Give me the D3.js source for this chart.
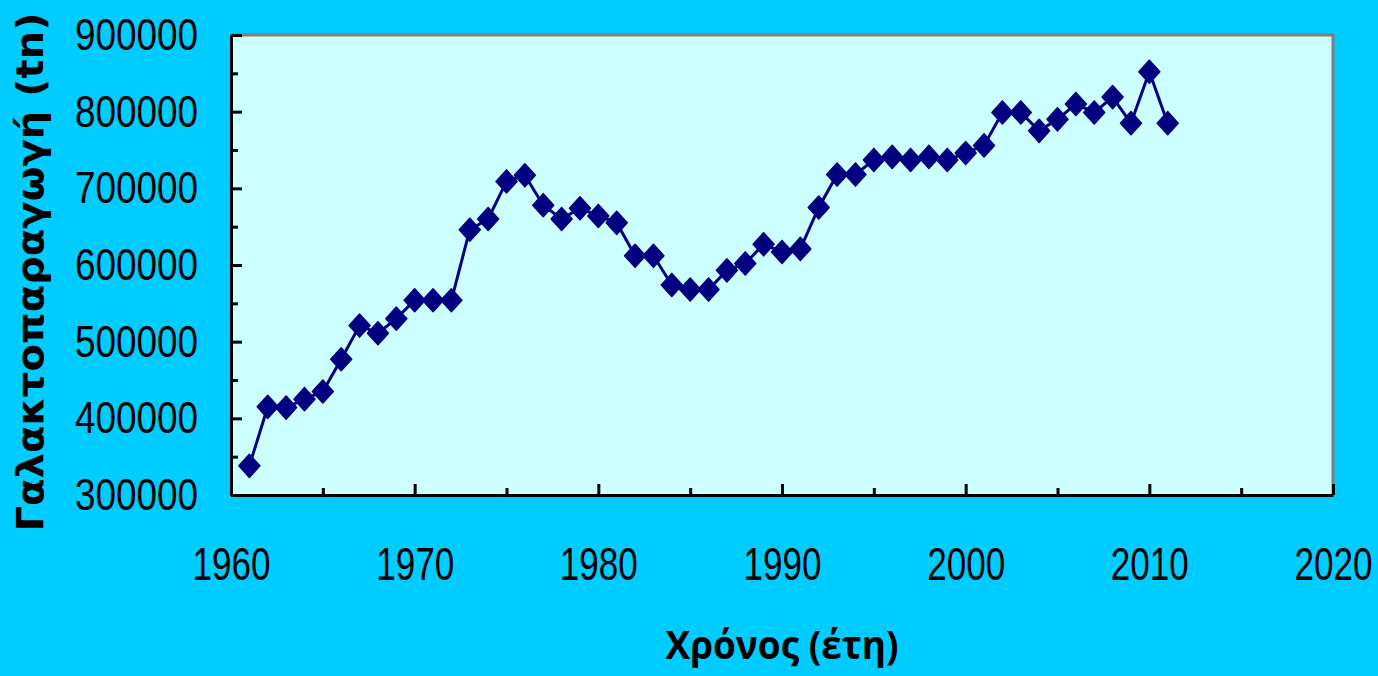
<!DOCTYPE html>
<html>
<head>
<meta charset="utf-8">
<script src="https://cdn.jsdelivr.net/npm/d3@7"></script>
<style>
  html, body { margin: 0; padding: 0; background: #00CCFF; }
  svg { display: block; }
</style>
</head>
<body>
<svg id="chart" width="1378" height="676"></svg>
<script>
const years = [1961,1962,1963,1964,1965,1966,1967,1968,1969,1970,
  1971,1972,1973,1974,1975,1976,1977,1978,1979,1980,
  1981,1982,1983,1984,1985,1986,1987,1988,1989,1990,
  1991,1992,1993,1994,1995,1996,1997,1998,1999,2000,
  2001,2002,2003,2004,2005,2006,2007,2008,2009,2010,2011];
const production = [338000,415000,414000,425000,435000,477000,521000,511000,530000,554000,
  554000,554000,646000,660000,709000,717000,678000,660000,674000,664000,
  655000,612000,612000,574000,568000,568000,593000,602000,627000,617000,
  621000,675000,718000,718000,737000,741000,737000,741000,737000,746000,
  756000,799000,799000,775000,790000,810000,799000,819000,785000,852000,785000];
const xTicks = [1960,1970,1980,1990,2000,2010,2020];
const xMinorTicks = [1965,1975,1985,1995,2005,2015];
const yTicks = [300000,400000,500000,600000,700000,800000,900000];
const yMinorTicks = [350000,450000,550000,650000,750000,850000];
const xTitle = "Χρόνος (έτη)";
const yTitle = "Γαλακτοπαραγωγή (tn)";

const svg = d3.select("#chart");
const W = 1378, H = 676;
const m = {left: 231, top: 35, right: 1378 - 1333, bottom: 676 - 495};
const x = d3.scaleLinear().domain([1960, 2020]).range([m.left, W - m.right]);
const y = d3.scaleLinear().domain([300000, 900000]).range([H - m.bottom, m.top]);

svg.append("rect").attr("width", W).attr("height", H).attr("fill", "#00CCFF");

// plot background
svg.append("rect")
  .attr("x", x(1960)).attr("y", y(900000))
  .attr("width", x(2020) - x(1960)).attr("height", y(300000) - y(900000))
  .attr("fill", "#CCFFFF");

// top/right border gray
svg.append("path")
  .attr("d", `M${x(1960)},${y(900000)}H${x(2020)}V${y(300000)}`)
  .attr("fill", "none").attr("stroke", "#808080").attr("stroke-width", 3);

const tickFont = "'Liberation Sans', Arial, sans-serif";

// minor ticks
svg.append("g").attr("transform", `translate(0,${y(300000)})`)
  .call(d3.axisBottom(x).tickValues(xMinorTicks).tickSizeInner(-7).tickSizeOuter(0).tickFormat(""))
  .call(g => g.select(".domain").remove())
  .call(g => g.selectAll("line").attr("stroke", "#000").attr("stroke-width", 3));
svg.append("g").attr("transform", `translate(${x(1960)},0)`)
  .call(d3.axisLeft(y).tickValues(yMinorTicks).tickSizeInner(-7).tickSizeOuter(0).tickFormat(""))
  .call(g => g.select(".domain").remove())
  .call(g => g.selectAll("line").attr("stroke", "#000").attr("stroke-width", 3));

// major x axis
const gx = svg.append("g").attr("transform", `translate(0,${y(300000)})`)
  .call(d3.axisBottom(x).tickValues(xTicks).tickSizeInner(-11).tickSizeOuter(0)
    .tickPadding(52).tickFormat(d3.format("d")));
gx.select(".domain").attr("stroke", "#000").attr("stroke-width", 3);
gx.selectAll("line").attr("stroke", "#000").attr("stroke-width", 3);
gx.selectAll("text").attr("font-family", tickFont).attr("font-size", 46).attr("fill", "#000")
  .attr("textLength", 78).attr("lengthAdjust", "spacingAndGlyphs");

// major y axis
const gy = svg.append("g").attr("transform", `translate(${x(1960)},0)`)
  .call(d3.axisLeft(y).tickValues(yTicks).tickSizeInner(-11).tickSizeOuter(0)
    .tickPadding(33).tickFormat(d3.format("d")));
gy.select(".domain").attr("stroke", "#000").attr("stroke-width", 3);
gy.selectAll("line").attr("stroke", "#000").attr("stroke-width", 3);
gy.selectAll("text").attr("font-family", tickFont).attr("font-size", 45).attr("fill", "#000")
  .attr("textLength", 123).attr("lengthAdjust", "spacingAndGlyphs");

// line
const data = years.map((yr, i) => ({year: yr, value: production[i]}));
svg.append("path").datum(data)
  .attr("fill", "none").attr("stroke", "#000080").attr("stroke-width", 3)
  .attr("d", d3.line().x(d => x(d.year)).y(d => y(d.value)));

// diamond markers
const wideDiamond = {
  draw(ctx, size) {
    const hw = Math.sqrt(size) / 2, hh = hw * 1.1;
    ctx.moveTo(0, -hh); ctx.lineTo(hw, 0); ctx.lineTo(0, hh); ctx.lineTo(-hw, 0); ctx.closePath();
  }
};
svg.append("g").selectAll("path").data(data).join("path")
  .attr("transform", d => `translate(${x(d.year)},${y(d.value)})`)
  .attr("d", d3.symbol().type(wideDiamond).size(441))
  .attr("fill", "#000080").attr("stroke", "#000080").attr("stroke-width", 1.5).attr("stroke-linejoin", "round");

// titles
svg.append("text")
  .attr("x", (x(1960) + x(2020)) / 2).attr("y", 659)
  .attr("text-anchor", "middle")
  .attr("font-family", "'Open Sans', 'DejaVu Sans', sans-serif").attr("font-weight", "bold")
  .attr("font-size", 39).attr("fill", "#000")
  .attr("textLength", 233).attr("lengthAdjust", "spacingAndGlyphs")
  .text(xTitle);

svg.append("text")
  .attr("transform", "translate(43,272) rotate(-90)")
  .attr("text-anchor", "middle")
  .attr("font-family", "'DejaVu Sans', sans-serif").attr("font-weight", "bold")
  .attr("font-size", 38).attr("fill", "#000")
  .attr("textLength", 519).attr("lengthAdjust", "spacingAndGlyphs")
  .text(yTitle);
</script>
</body>
</html>
